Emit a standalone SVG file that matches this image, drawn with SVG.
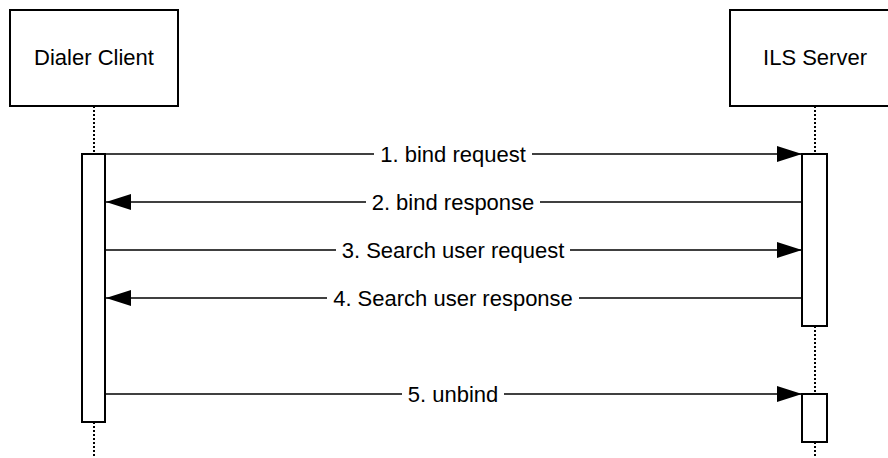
<svg xmlns="http://www.w3.org/2000/svg" width="888" height="458" viewBox="0 0 888 458">
<style>
.box{fill:#fff;stroke:#000;stroke-width:2}
.act{fill:#fff;stroke:#000;stroke-width:2}
.life{stroke:#000;stroke-width:2;stroke-dasharray:2 2;fill:none}
.msg{stroke:#000;stroke-width:1.6;fill:none}
.t{font-family:"Liberation Sans",Arial,sans-serif;font-size:22px;fill:#000;text-anchor:middle}
</style>
<defs>
<marker id="ah" markerUnits="userSpaceOnUse" markerWidth="26" markerHeight="18" refX="25" refY="8" orient="auto">
<path d="M0,0 L25,8 L0,16 Z" fill="#000"/>
</marker>
</defs>
<g id="lifelines">
<line class="life" x1="94" y1="106" x2="94" y2="154"/>
<line class="life" x1="94" y1="422" x2="94" y2="458"/>
<line class="life" x1="815" y1="106" x2="815" y2="154"/>
<line class="life" x1="815" y1="326" x2="815" y2="394"/>
<line class="life" x1="815" y1="442" x2="815" y2="458"/>
</g>
<g id="dialer-client">
<rect class="box" x="10" y="10" width="168" height="96"/>
<text class="t" x="94" y="64.5">Dialer Client</text>
</g>
<g id="ils-server">
<rect class="box" x="730" y="10" width="170" height="96"/>
<text class="t" x="815" y="64.5">ILS Server</text>
</g>
<g id="activations">
<rect class="act" x="82" y="154" width="23" height="268"/>
<rect class="act" x="802" y="154" width="25" height="172"/>
<rect class="act" x="802" y="394" width="25" height="48"/>
</g>
<g id="connectors">
<line class="msg" x1="105" y1="154" x2="374" y2="154"/>
<line class="msg" x1="532" y1="154" x2="802" y2="154" marker-end="url(#ah)"/>
<text class="t" x="453" y="162">1. bind request</text>
<line class="msg" x1="802" y1="202" x2="540" y2="202"/>
<line class="msg" x1="366" y1="202" x2="106" y2="202" marker-end="url(#ah)"/>
<text class="t" x="453" y="210">2. bind response</text>
<line class="msg" x1="105" y1="250" x2="336" y2="250"/>
<line class="msg" x1="570" y1="250" x2="802" y2="250" marker-end="url(#ah)"/>
<text class="t" x="453" y="258">3. Search user request</text>
<line class="msg" x1="802" y1="298" x2="579" y2="298"/>
<line class="msg" x1="327" y1="298" x2="106" y2="298" marker-end="url(#ah)"/>
<text class="t" x="453" y="306">4. Search user response</text>
<line class="msg" x1="105" y1="394" x2="402" y2="394"/>
<line class="msg" x1="504" y1="394" x2="802" y2="394" marker-end="url(#ah)"/>
<text class="t" x="453" y="402">5. unbind</text>
</g>
</svg>
